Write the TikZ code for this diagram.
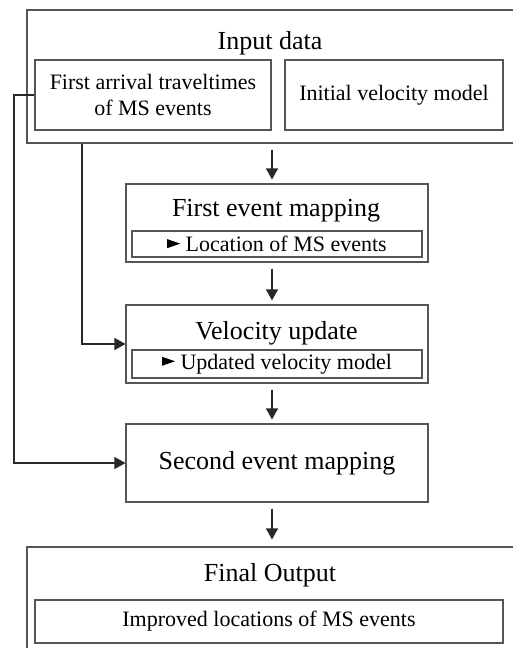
\documentclass[tikz,border=0pt]{standalone}
\usepackage{fontspec}
\setmainfont{Liberation Serif}
\usetikzlibrary{arrows.meta}
\definecolor{boxgray}{RGB}{85,85,85}
\definecolor{linegray}{RGB}{40,40,40}
% small filled pointer set in front of a list entry
\newcommand{\pointer}{\tikz[x=1pt,y=1pt,baseline=0pt]\fill[black] (0,3.5) -- (13,8) -- (0,12.5) -- cycle;}
\begin{document}
\begin{tikzpicture}[x=1pt,y=-1pt,
  box/.style={draw=boxgray, line width=1.1pt, rectangle, inner sep=0pt, align=center},
  titletext/.style={font=\fontsize{26}{30}\selectfont, inner sep=0pt},
  subtext/.style={font=\fontsize{22}{26}\selectfont},
  arr/.style={draw=linegray, line width=1.1pt, -{Triangle[width=12pt,length=11pt]}},
  down/.style={arr, shorten <=6pt, shorten >=4pt}]
\clip (0,0) rectangle (513,648);
\fill[white] (0,0) rectangle (513,648);

% input block
\node[box, minimum width=503pt, minimum height=133pt] (input) at (278.5,76.5) {};
\node[titletext] (inputT) at (270,43) {Input data};
\node[box, subtext, minimum width=236pt, minimum height=70pt] (tt) at (153,95)
  {First arrival traveltimes\\of MS events};
\node[box, subtext, minimum width=218pt, minimum height=70pt] (ivm) at (394,95)
  {Initial velocity model};

% first event mapping
\node[box, minimum width=302pt, minimum height=78pt] (fem) at (277,223) {};
\node[titletext] (femT) at (276,211) {First event mapping};
\node[box, subtext, minimum width=290pt, minimum height=26pt] (femI) at (277,244)
  {\pointer\ Location of MS events};

% velocity update
\node[box, minimum width=302pt, minimum height=78pt] (vu) at (277,344) {};
\node[titletext] (vuT) at (276.5,333) {Velocity update};
\node[box, subtext, minimum width=290pt, minimum height=28pt] (vuI) at (277,364)
  {\pointer\ Updated velocity model};

% second event mapping
\node[box, titletext, minimum width=302pt, minimum height=78pt] (sem) at (277,463)
  {Second event mapping};

% final output
\node[box, minimum width=503pt, minimum height=133pt] (final) at (278.5,613.5) {};
\node[titletext] (finalT) at (270,575) {Final Output};
\node[box, subtext, minimum width=468pt, minimum height=43pt] (finalI) at (269,621.5)
  {Improved locations of MS events};

% flow arrows
\coordinate (ax) at (272,0);
\draw[down] (input.south -| ax) -- (fem.north -| ax);
\draw[down] (fem.south -| ax) -- (vu.north -| ax);
\draw[down] (vu.south -| ax) -- (sem.north -| ax);
\draw[down, shorten >=7pt] (sem.south -| ax) -- (final.north -| ax);

% data feeds
\coordinate (fbL) at (14,0);
\coordinate (fbM) at (82,0);
\draw[arr] (tt.west) -- (tt.west -| fbL) |- (sem.west);
\draw[arr] (input.south -| fbM) |- (vu.west);
\end{tikzpicture}
\end{document}
